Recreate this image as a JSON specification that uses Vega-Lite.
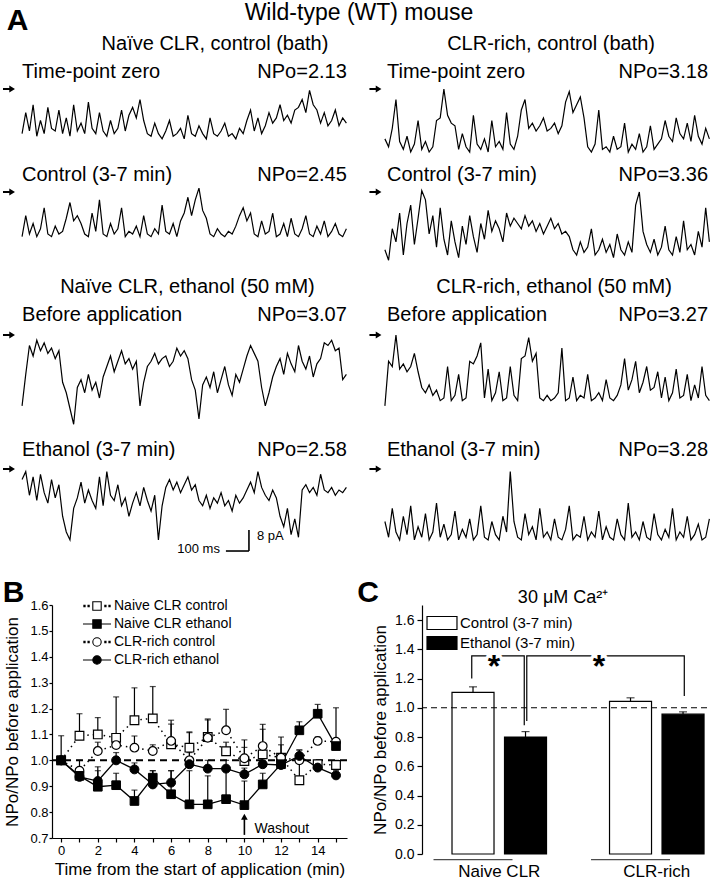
{
"$schema": "https://vega.github.io/schema/vega-lite/v6.json",
"padding": {"left": 2, "top": 0, "right": 0, "bottom": 0},
"autosize": {"type": "pad"},
"background": "white",
"config": {"font": "Liberation Sans", "view": {"stroke": null}, "axis": {"grid": false, "domainColor": "black", "tickColor": "black", "labelColor": "black", "titleColor": "black", "titleFontWeight": "normal", "domainWidth": 1.2, "tickWidth": 1.2, "labelOverlap": false}, "legend": {"labelColor": "black"}},
"datasets": {
"L1": [{"t":0,"v":-17},{"t":16,"v":-9},{"t":32,"v":-16},{"t":48,"v":-6},{"t":64,"v":-18},{"t":80,"v":-12},{"t":96,"v":-17},{"t":112,"v":-7},{"t":128,"v":-15},{"t":144,"v":-16},{"t":160,"v":-8},{"t":176,"v":-17},{"t":192,"v":-11},{"t":208,"v":-18},{"t":224,"v":-6},{"t":240,"v":-16},{"t":256,"v":-13},{"t":272,"v":-17},{"t":288,"v":-5},{"t":304,"v":-15},{"t":320,"v":-17},{"t":336,"v":-9},{"t":352,"v":-16},{"t":368,"v":-18},{"t":384,"v":-12},{"t":400,"v":-17},{"t":416,"v":-15},{"t":432,"v":-8},{"t":448,"v":-16},{"t":464,"v":-10},{"t":480,"v":-7},{"t":496,"v":-11},{"t":512,"v":-4},{"t":528,"v":-12},{"t":544,"v":-17},{"t":560,"v":-18},{"t":576,"v":-13},{"t":592,"v":-17},{"t":608,"v":-19},{"t":624,"v":-16},{"t":640,"v":-12},{"t":656,"v":-18},{"t":672,"v":-17},{"t":688,"v":-15},{"t":704,"v":-19},{"t":720,"v":-10},{"t":736,"v":-17},{"t":752,"v":-18},{"t":768,"v":-14},{"t":784,"v":-17},{"t":800,"v":-19},{"t":816,"v":-11},{"t":832,"v":-17},{"t":848,"v":-18},{"t":864,"v":-16},{"t":880,"v":-13},{"t":896,"v":-18},{"t":912,"v":-17},{"t":928,"v":-19},{"t":944,"v":-15},{"t":960,"v":-17},{"t":976,"v":-12},{"t":992,"v":-8},{"t":1008,"v":-16},{"t":1024,"v":-11},{"t":1040,"v":-17},{"t":1056,"v":-14},{"t":1072,"v":-9},{"t":1088,"v":-13},{"t":1104,"v":-11},{"t":1120,"v":-6},{"t":1136,"v":-12},{"t":1152,"v":-10},{"t":1168,"v":-13},{"t":1184,"v":-8},{"t":1200,"v":-7},{"t":1216,"v":-4},{"t":1232,"v":-9},{"t":1248,"v":-0.5},{"t":1264,"v":-6},{"t":1280,"v":-8},{"t":1296,"v":-13},{"t":1312,"v":-9},{"t":1328,"v":-14},{"t":1344,"v":-12},{"t":1360,"v":-8},{"t":1376,"v":-14},{"t":1392,"v":-11},{"t":1408,"v":-13}],
"R1": [{"t":0,"v":-19},{"t":16,"v":-22},{"t":32,"v":-15},{"t":48,"v":-4},{"t":64,"v":-20},{"t":80,"v":-23},{"t":96,"v":-18},{"t":112,"v":-24},{"t":128,"v":-21},{"t":144,"v":-12},{"t":160,"v":-23},{"t":176,"v":-20},{"t":192,"v":-24},{"t":208,"v":-22},{"t":224,"v":-12},{"t":240,"v":-11},{"t":256,"v":0},{"t":272,"v":-10},{"t":288,"v":-13},{"t":304,"v":-14},{"t":320,"v":-23},{"t":336,"v":-17},{"t":352,"v":-22},{"t":368,"v":-24},{"t":384,"v":-10},{"t":400,"v":-21},{"t":416,"v":-23},{"t":432,"v":-19},{"t":448,"v":-24},{"t":464,"v":-12},{"t":480,"v":-22},{"t":496,"v":-20},{"t":512,"v":-23},{"t":528,"v":-9},{"t":544,"v":-21},{"t":560,"v":-23},{"t":576,"v":-18},{"t":592,"v":-8},{"t":608,"v":-4},{"t":624,"v":-15},{"t":640,"v":-13},{"t":656,"v":-16},{"t":672,"v":-14},{"t":688,"v":-11},{"t":704,"v":-16},{"t":720,"v":-15},{"t":736,"v":-13},{"t":752,"v":-17},{"t":768,"v":-14},{"t":784,"v":-5},{"t":800,"v":-1},{"t":816,"v":-9},{"t":832,"v":-6},{"t":848,"v":-3},{"t":864,"v":-11},{"t":880,"v":-22},{"t":896,"v":-24},{"t":912,"v":-21},{"t":928,"v":-8},{"t":944,"v":-23},{"t":960,"v":-22},{"t":976,"v":-24},{"t":992,"v":-18},{"t":1008,"v":-23},{"t":1024,"v":-22},{"t":1040,"v":-13},{"t":1056,"v":-24},{"t":1072,"v":-21},{"t":1088,"v":-23},{"t":1104,"v":-17},{"t":1120,"v":-24},{"t":1136,"v":-22},{"t":1152,"v":-14},{"t":1168,"v":-23},{"t":1184,"v":-21},{"t":1200,"v":-19},{"t":1216,"v":-12},{"t":1232,"v":-18},{"t":1248,"v":-20},{"t":1264,"v":-11},{"t":1280,"v":-17},{"t":1296,"v":-19},{"t":1312,"v":-13},{"t":1328,"v":-20},{"t":1344,"v":-10},{"t":1360,"v":-18},{"t":1376,"v":-21},{"t":1392,"v":-15},{"t":1408,"v":-19}],
"L2": [{"t":0,"v":-17},{"t":16,"v":-9},{"t":32,"v":-16},{"t":48,"v":-12},{"t":64,"v":-17},{"t":80,"v":-14},{"t":96,"v":-6},{"t":112,"v":-16},{"t":128,"v":-17},{"t":144,"v":-13},{"t":160,"v":-16},{"t":176,"v":-15},{"t":192,"v":-10},{"t":208,"v":-4},{"t":224,"v":-11},{"t":240,"v":-9},{"t":256,"v":-12},{"t":272,"v":-16},{"t":288,"v":-17},{"t":304,"v":-8},{"t":320,"v":-15},{"t":336,"v":-3},{"t":352,"v":-16},{"t":368,"v":-17},{"t":384,"v":-12},{"t":400,"v":-16},{"t":416,"v":-14},{"t":432,"v":-6},{"t":448,"v":-17},{"t":464,"v":-15},{"t":480,"v":-16},{"t":496,"v":-13},{"t":512,"v":-17},{"t":528,"v":-9},{"t":544,"v":-16},{"t":560,"v":-17},{"t":576,"v":-14},{"t":592,"v":-16},{"t":608,"v":-5},{"t":624,"v":-15},{"t":640,"v":-16},{"t":656,"v":-12},{"t":672,"v":-17},{"t":688,"v":-11},{"t":704,"v":-8},{"t":720,"v":-2},{"t":736,"v":-9},{"t":752,"v":-3},{"t":768,"v":1.5},{"t":784,"v":-7},{"t":800,"v":-10},{"t":816,"v":-16},{"t":832,"v":-17},{"t":848,"v":-14},{"t":864,"v":-16},{"t":880,"v":-17},{"t":896,"v":-15},{"t":912,"v":-16},{"t":928,"v":-13},{"t":944,"v":-9},{"t":960,"v":-6},{"t":976,"v":-11},{"t":992,"v":-8},{"t":1008,"v":-16},{"t":1024,"v":-17},{"t":1040,"v":-11},{"t":1056,"v":-16},{"t":1072,"v":-15},{"t":1088,"v":-8},{"t":1104,"v":-17},{"t":1120,"v":-16},{"t":1136,"v":-12},{"t":1152,"v":-17},{"t":1168,"v":-10},{"t":1184,"v":-16},{"t":1200,"v":-17},{"t":1216,"v":-14},{"t":1232,"v":-9},{"t":1248,"v":-16},{"t":1264,"v":-17},{"t":1280,"v":-13},{"t":1296,"v":-16},{"t":1312,"v":-11},{"t":1328,"v":-17},{"t":1344,"v":-15},{"t":1360,"v":-12},{"t":1376,"v":-16},{"t":1392,"v":-17},{"t":1408,"v":-14}],
"R2": [{"t":0,"v":-22},{"t":16,"v":-26},{"t":32,"v":-14},{"t":48,"v":-19},{"t":64,"v":-8},{"t":80,"v":-24},{"t":96,"v":-12},{"t":112,"v":-5},{"t":128,"v":-20},{"t":144,"v":-10},{"t":160,"v":0.5},{"t":176,"v":-3},{"t":192,"v":-16},{"t":208,"v":-9},{"t":224,"v":-21},{"t":240,"v":-6},{"t":256,"v":-18},{"t":272,"v":-24},{"t":288,"v":-11},{"t":304,"v":-19},{"t":320,"v":-25},{"t":336,"v":-13},{"t":352,"v":-20},{"t":368,"v":-9},{"t":384,"v":-17},{"t":400,"v":-23},{"t":416,"v":-12},{"t":432,"v":-18},{"t":448,"v":-7},{"t":464,"v":-15},{"t":480,"v":-11},{"t":496,"v":-14},{"t":512,"v":-19},{"t":528,"v":-8},{"t":544,"v":-13},{"t":560,"v":-10},{"t":576,"v":-12},{"t":592,"v":-14},{"t":608,"v":-9},{"t":624,"v":-13},{"t":640,"v":-11},{"t":656,"v":-15},{"t":672,"v":-12},{"t":688,"v":-16},{"t":704,"v":-13},{"t":720,"v":-10},{"t":736,"v":-14},{"t":752,"v":-12},{"t":768,"v":-16},{"t":784,"v":-15},{"t":800,"v":-17},{"t":816,"v":-22},{"t":832,"v":-24},{"t":848,"v":-19},{"t":864,"v":-23},{"t":880,"v":-21},{"t":896,"v":-14},{"t":912,"v":-24},{"t":928,"v":-22},{"t":944,"v":-18},{"t":960,"v":-23},{"t":976,"v":-20},{"t":992,"v":-25},{"t":1008,"v":-16},{"t":1024,"v":-22},{"t":1040,"v":-24},{"t":1056,"v":-19},{"t":1072,"v":-23},{"t":1088,"v":-5},{"t":1104,"v":0},{"t":1120,"v":-15},{"t":1136,"v":-20},{"t":1152,"v":-23},{"t":1168,"v":-18},{"t":1184,"v":-24},{"t":1200,"v":-21},{"t":1216,"v":-13},{"t":1232,"v":-22},{"t":1248,"v":-24},{"t":1264,"v":-17},{"t":1280,"v":-23},{"t":1296,"v":-11},{"t":1312,"v":-22},{"t":1328,"v":-20},{"t":1344,"v":-24},{"t":1360,"v":-15},{"t":1376,"v":-21},{"t":1392,"v":-6},{"t":1408,"v":-19}],
"L3": [{"t":0,"v":-27},{"t":16,"v":-15},{"t":32,"v":-4},{"t":48,"v":-8},{"t":64,"v":-2},{"t":80,"v":-6},{"t":96,"v":-3},{"t":112,"v":-7},{"t":128,"v":-5},{"t":144,"v":-9},{"t":160,"v":-6},{"t":176,"v":-18},{"t":192,"v":-22},{"t":208,"v":-28},{"t":224,"v":-34},{"t":240,"v":-20},{"t":256,"v":-17},{"t":272,"v":-22},{"t":288,"v":-15},{"t":304,"v":-21},{"t":320,"v":-18},{"t":336,"v":-24},{"t":352,"v":-16},{"t":368,"v":-12},{"t":384,"v":-8},{"t":400,"v":-14},{"t":416,"v":-10},{"t":432,"v":-6},{"t":448,"v":-11},{"t":464,"v":-9},{"t":480,"v":-13},{"t":496,"v":-10},{"t":512,"v":-27},{"t":528,"v":-18},{"t":544,"v":-12},{"t":560,"v":-10},{"t":576,"v":-7},{"t":592,"v":-11},{"t":608,"v":-9},{"t":624,"v":-8},{"t":640,"v":-12},{"t":656,"v":-10},{"t":672,"v":-5},{"t":688,"v":-8},{"t":704,"v":-6},{"t":720,"v":-9},{"t":736,"v":-17},{"t":752,"v":-21},{"t":768,"v":-32},{"t":784,"v":-19},{"t":800,"v":-16},{"t":816,"v":-20},{"t":832,"v":-14},{"t":848,"v":-22},{"t":864,"v":-17},{"t":880,"v":-12},{"t":896,"v":-19},{"t":912,"v":-23},{"t":928,"v":-15},{"t":944,"v":-18},{"t":960,"v":-13},{"t":976,"v":-8},{"t":992,"v":-4},{"t":1008,"v":-7},{"t":1024,"v":-10},{"t":1040,"v":-20},{"t":1056,"v":-27},{"t":1072,"v":-22},{"t":1088,"v":-16},{"t":1104,"v":-12},{"t":1120,"v":-9},{"t":1136,"v":-15},{"t":1152,"v":-7},{"t":1168,"v":-11},{"t":1184,"v":-14},{"t":1200,"v":-4},{"t":1216,"v":-10},{"t":1232,"v":-13},{"t":1248,"v":-8},{"t":1264,"v":-16},{"t":1280,"v":-11},{"t":1296,"v":-9},{"t":1312,"v":-3},{"t":1328,"v":-4},{"t":1344,"v":-2},{"t":1360,"v":-6},{"t":1376,"v":-5},{"t":1392,"v":-17},{"t":1408,"v":-15}],
"R3": [{"t":0,"v":-27},{"t":16,"v":-10},{"t":32,"v":-12},{"t":48,"v":0},{"t":64,"v":-13},{"t":80,"v":-11},{"t":96,"v":-14},{"t":112,"v":-12},{"t":128,"v":-7},{"t":144,"v":-14},{"t":160,"v":-20},{"t":176,"v":-22},{"t":192,"v":-19},{"t":208,"v":-23},{"t":224,"v":-21},{"t":240,"v":-25},{"t":256,"v":-24},{"t":272,"v":-12},{"t":288,"v":-25},{"t":304,"v":-23},{"t":320,"v":-15},{"t":336,"v":-25},{"t":352,"v":-24},{"t":368,"v":-10},{"t":384,"v":-11},{"t":400,"v":-8},{"t":416,"v":-3},{"t":432,"v":-24},{"t":448,"v":-13},{"t":464,"v":-25},{"t":480,"v":-22},{"t":496,"v":-14},{"t":512,"v":-25},{"t":528,"v":-24},{"t":544,"v":-12},{"t":560,"v":-23},{"t":576,"v":-25},{"t":592,"v":-9},{"t":608,"v":-8},{"t":624,"v":-1},{"t":640,"v":-10},{"t":656,"v":-7},{"t":672,"v":-24},{"t":688,"v":-25},{"t":704,"v":-23},{"t":720,"v":-25},{"t":736,"v":-24},{"t":752,"v":-22},{"t":768,"v":-5},{"t":784,"v":-25},{"t":800,"v":-24},{"t":816,"v":-16},{"t":832,"v":-25},{"t":848,"v":-23},{"t":864,"v":-24},{"t":880,"v":-15},{"t":896,"v":-25},{"t":912,"v":-24},{"t":928,"v":-22},{"t":944,"v":-25},{"t":960,"v":-17},{"t":976,"v":-24},{"t":992,"v":-25},{"t":1008,"v":-23},{"t":1024,"v":-19},{"t":1040,"v":-9},{"t":1056,"v":-21},{"t":1072,"v":-17},{"t":1088,"v":-10},{"t":1104,"v":-22},{"t":1120,"v":-18},{"t":1136,"v":-12},{"t":1152,"v":-21},{"t":1168,"v":-20},{"t":1184,"v":-14},{"t":1200,"v":-24},{"t":1216,"v":-16},{"t":1232,"v":-25},{"t":1248,"v":-22},{"t":1264,"v":-13},{"t":1280,"v":-24},{"t":1296,"v":-23},{"t":1312,"v":-15},{"t":1328,"v":-25},{"t":1344,"v":-19},{"t":1360,"v":-24},{"t":1376,"v":-12},{"t":1392,"v":-23},{"t":1408,"v":-25}],
"L4": [{"t":0,"v":-4},{"t":16,"v":-1},{"t":32,"v":-10},{"t":48,"v":-3},{"t":64,"v":-12},{"t":80,"v":-2},{"t":96,"v":-9},{"t":112,"v":-13},{"t":128,"v":-4},{"t":144,"v":-11},{"t":160,"v":-6},{"t":176,"v":-18},{"t":192,"v":-24},{"t":208,"v":-27},{"t":224,"v":-15},{"t":240,"v":-11},{"t":256,"v":-5},{"t":272,"v":-13},{"t":288,"v":-8},{"t":304,"v":-12},{"t":320,"v":-15},{"t":336,"v":-3},{"t":352,"v":-14},{"t":368,"v":-1},{"t":384,"v":-10},{"t":400,"v":-12},{"t":416,"v":-6},{"t":432,"v":-14},{"t":448,"v":-11},{"t":464,"v":-18},{"t":480,"v":-13},{"t":496,"v":-9},{"t":512,"v":-14},{"t":528,"v":-7},{"t":544,"v":-12},{"t":560,"v":-16},{"t":576,"v":-10},{"t":592,"v":-27},{"t":608,"v":-14},{"t":624,"v":-7},{"t":640,"v":-4},{"t":656,"v":-8},{"t":672,"v":-5},{"t":688,"v":-9},{"t":704,"v":-6},{"t":720,"v":-3},{"t":736,"v":-8},{"t":752,"v":-6},{"t":768,"v":-12},{"t":784,"v":-14},{"t":800,"v":-10},{"t":816,"v":-15},{"t":832,"v":-11},{"t":848,"v":-13},{"t":864,"v":-9},{"t":880,"v":-14},{"t":896,"v":-12},{"t":912,"v":-16},{"t":928,"v":-10},{"t":944,"v":-13},{"t":960,"v":-11},{"t":976,"v":-8},{"t":992,"v":-5},{"t":1008,"v":-9},{"t":1024,"v":-1},{"t":1040,"v":-7},{"t":1056,"v":-10},{"t":1072,"v":-12},{"t":1088,"v":-8},{"t":1104,"v":-11},{"t":1120,"v":-18},{"t":1136,"v":-22},{"t":1152,"v":-15},{"t":1168,"v":-25},{"t":1184,"v":-19},{"t":1200,"v":-26},{"t":1216,"v":-8},{"t":1232,"v":-6},{"t":1248,"v":-9},{"t":1264,"v":-7},{"t":1280,"v":-10},{"t":1296,"v":-2},{"t":1312,"v":-8},{"t":1328,"v":-9},{"t":1344,"v":-7},{"t":1360,"v":-10},{"t":1376,"v":-8},{"t":1392,"v":-9},{"t":1408,"v":-7}],
"R4": [{"t":0,"v":-20},{"t":16,"v":-26},{"t":32,"v":-15},{"t":48,"v":-24},{"t":64,"v":-27},{"t":80,"v":-18},{"t":96,"v":-25},{"t":112,"v":-14},{"t":128,"v":-27},{"t":144,"v":-22},{"t":160,"v":-26},{"t":176,"v":-17},{"t":192,"v":-27},{"t":208,"v":-24},{"t":224,"v":-13},{"t":240,"v":-26},{"t":256,"v":-21},{"t":272,"v":-27},{"t":288,"v":-25},{"t":304,"v":-16},{"t":320,"v":-27},{"t":336,"v":-23},{"t":352,"v":-26},{"t":368,"v":-19},{"t":384,"v":-27},{"t":400,"v":-25},{"t":416,"v":-14},{"t":432,"v":-26},{"t":448,"v":-27},{"t":464,"v":-20},{"t":480,"v":-25},{"t":496,"v":-27},{"t":512,"v":-18},{"t":528,"v":-24},{"t":544,"v":-1},{"t":560,"v":-20},{"t":576,"v":-26},{"t":592,"v":-27},{"t":608,"v":-17},{"t":624,"v":-25},{"t":640,"v":-22},{"t":656,"v":-27},{"t":672,"v":-15},{"t":688,"v":-26},{"t":704,"v":-24},{"t":720,"v":-27},{"t":736,"v":-19},{"t":752,"v":-26},{"t":768,"v":-27},{"t":784,"v":-23},{"t":800,"v":-14},{"t":816,"v":-27},{"t":832,"v":-25},{"t":848,"v":-26},{"t":864,"v":-18},{"t":880,"v":-27},{"t":896,"v":-24},{"t":912,"v":-26},{"t":928,"v":-16},{"t":944,"v":-27},{"t":960,"v":-22},{"t":976,"v":-26},{"t":992,"v":-27},{"t":1008,"v":-19},{"t":1024,"v":-25},{"t":1040,"v":-27},{"t":1056,"v":-13},{"t":1072,"v":-26},{"t":1088,"v":-24},{"t":1104,"v":-27},{"t":1120,"v":-20},{"t":1136,"v":-26},{"t":1152,"v":-27},{"t":1168,"v":-17},{"t":1184,"v":-25},{"t":1200,"v":-27},{"t":1216,"v":-23},{"t":1232,"v":-26},{"t":1248,"v":-15},{"t":1264,"v":-27},{"t":1280,"v":-24},{"t":1296,"v":-26},{"t":1312,"v":-18},{"t":1328,"v":-27},{"t":1344,"v":-25},{"t":1360,"v":-21},{"t":1376,"v":-27},{"t":1392,"v":-26},{"t":1408,"v":-19}],
"bdata": [
{"s":"Naive CLR control","t":0,"v":1.0,"e":null},{"s":"Naive CLR control","t":1,"v":1.095,"e":1.18},{"s":"Naive CLR control","t":2,"v":1.10,"e":1.165},{"s":"Naive CLR control","t":3,"v":1.087,"e":1.245},{"s":"Naive CLR control","t":4,"v":1.155,"e":1.28},{"s":"Naive CLR control","t":5,"v":1.162,"e":1.285},{"s":"Naive CLR control","t":6,"v":1.062,"e":1.155},{"s":"Naive CLR control","t":7,"v":1.049,"e":1.107},{"s":"Naive CLR control","t":8,"v":1.09,"e":1.16},{"s":"Naive CLR control","t":9,"v":1.035,"e":1.07},{"s":"Naive CLR control","t":10,"v":0.997,"e":1.05},{"s":"Naive CLR control","t":11,"v":1.023,"e":1.12},{"s":"Naive CLR control","t":12,"v":1.01,"e":1.09},{"s":"Naive CLR control","t":13,"v":0.923,"e":1.0},{"s":"Naive CLR control","t":14,"v":0.985,"e":1.0},{"s":"Naive CLR control","t":15,"v":0.982,"e":1.0},
{"s":"Naive CLR ethanol","t":0,"v":1.0,"e":null},{"s":"Naive CLR ethanol","t":1,"v":0.94,"e":0.96},{"s":"Naive CLR ethanol","t":2,"v":0.898,"e":0.975},{"s":"Naive CLR ethanol","t":3,"v":0.904,"e":0.95},{"s":"Naive CLR ethanol","t":4,"v":0.843,"e":0.885},{"s":"Naive CLR ethanol","t":5,"v":0.933,"e":0.96},{"s":"Naive CLR ethanol","t":6,"v":0.869,"e":0.96},{"s":"Naive CLR ethanol","t":7,"v":0.83,"e":0.96},{"s":"Naive CLR ethanol","t":8,"v":0.83,"e":0.94},{"s":"Naive CLR ethanol","t":9,"v":0.85,"e":0.97},{"s":"Naive CLR ethanol","t":10,"v":0.827,"e":0.92},{"s":"Naive CLR ethanol","t":11,"v":0.907,"e":0.95},{"s":"Naive CLR ethanol","t":12,"v":0.985,"e":1.0},{"s":"Naive CLR ethanol","t":13,"v":1.116,"e":1.149},{"s":"Naive CLR ethanol","t":14,"v":1.18,"e":1.216},{"s":"Naive CLR ethanol","t":15,"v":1.055,"e":1.08},
{"s":"CLR-rich control","t":0,"v":1.0,"e":1.095},{"s":"CLR-rich control","t":1,"v":0.96,"e":1.0},{"s":"CLR-rich control","t":2,"v":1.036,"e":1.07},{"s":"CLR-rich control","t":3,"v":1.059,"e":1.1},{"s":"CLR-rich control","t":4,"v":1.049,"e":1.094},{"s":"CLR-rich control","t":5,"v":1.036,"e":1.06},{"s":"CLR-rich control","t":6,"v":1.075,"e":1.14},{"s":"CLR-rich control","t":7,"v":1.0,"e":1.03},{"s":"CLR-rich control","t":8,"v":1.087,"e":1.156},{"s":"CLR-rich control","t":9,"v":1.116,"e":1.197},{"s":"CLR-rich control","t":10,"v":1.008,"e":1.079},{"s":"CLR-rich control","t":11,"v":1.055,"e":1.139},{"s":"CLR-rich control","t":12,"v":1.01,"e":1.06},{"s":"CLR-rich control","t":13,"v":1.0,"e":1.04},{"s":"CLR-rich control","t":14,"v":1.075,"e":1.09},{"s":"CLR-rich control","t":15,"v":1.072,"e":1.203},
{"s":"CLR-rich ethanol","t":0,"v":1.0,"e":null},{"s":"CLR-rich ethanol","t":1,"v":0.936,"e":0.95},{"s":"CLR-rich ethanol","t":2,"v":0.92,"e":0.96},{"s":"CLR-rich ethanol","t":3,"v":1.0,"e":1.03},{"s":"CLR-rich ethanol","t":4,"v":0.965,"e":0.99},{"s":"CLR-rich ethanol","t":5,"v":0.907,"e":0.96},{"s":"CLR-rich ethanol","t":6,"v":0.914,"e":0.96},{"s":"CLR-rich ethanol","t":7,"v":0.985,"e":1.11},{"s":"CLR-rich ethanol","t":8,"v":0.968,"e":1.0},{"s":"CLR-rich ethanol","t":9,"v":0.968,"e":1.0},{"s":"CLR-rich ethanol","t":10,"v":0.946,"e":0.97},{"s":"CLR-rich ethanol","t":11,"v":0.985,"e":1.0},{"s":"CLR-rich ethanol","t":12,"v":0.982,"e":1.0},{"s":"CLR-rich ethanol","t":13,"v":1.017,"e":1.04},{"s":"CLR-rich ethanol","t":14,"v":0.972,"e":0.99},{"s":"CLR-rich ethanol","t":15,"v":0.942,"e":0.96}
],
"cdata": [
{"cat":"NC","treat":"Control (3-7 min)","v":1.105,"e":1.143},
{"cat":"NE","treat":"Ethanol (3-7 min)","v":0.80,"e":0.837},
{"cat":"RC","treat":"Control (3-7 min)","v":1.043,"e":1.068},
{"cat":"RE","treat":"Ethanol (3-7 min)","v":0.956,"e":0.972}
],
"brk": [
{"b":1,"o":1,"c":"NC","y":1.20},{"b":1,"o":2,"c":"NC","y":1.355},{"b":1,"o":3,"c":"NE","y":1.355},{"b":1,"o":4,"c":"NE","y":0.88},
{"b":2,"o":1,"c":"NE","y":0.91},{"b":2,"o":2,"c":"NE","y":1.355},{"b":2,"o":3,"c":"RE","y":1.355},{"b":2,"o":4,"c":"RE","y":1.08}
]
},
"spacing": 0,
"resolve": {"scale": {"fill": "independent", "shape": "independent", "stroke": "independent"}},
"vconcat": [
{"bounds": "flush", "spacing": 15, "hconcat": [
 {"width": 296, "height": 163, "layer": [
  {"data": {"name": "L1"}, "mark": {"type": "line", "color": "black", "strokeWidth": 1.2}, "encoding": {"x": {"field": "t", "type": "quantitative", "scale": {"domain": [130, 1415], "nice": false, "zero": false}, "axis": null}, "y": {"field": "v", "type": "quantitative", "scale": {"domain": [-28.19, 33.9], "nice": false, "zero": false}, "axis": null}}},
  {"data": {"values": [{}]}, "mark": {"type": "point", "shape": "M-1,-0.18L0.05,-0.18L0.05,-0.6L1,0L0.05,0.6L0.05,0.18L-1,0.18Z", "size": 144, "filled": true, "color": "black", "opacity": 1}, "encoding": {"x": {"datum": -56.7}, "y": {"datum": 0}}},
  {"data": {"values": [{}]}, "mark": {"type": "text", "text": "Time-point zero", "align": "left", "baseline": "middle", "fontSize": 20, "color": "black"}, "encoding": {"x": {"datum": 0}, "y": {"datum": 6.48}}},
  {"data": {"values": [{}]}, "mark": {"type": "text", "text": "NPo=2.13", "align": "right", "baseline": "middle", "fontSize": 20, "color": "black"}, "encoding": {"x": {"datum": 1410}, "y": {"datum": 6.48}}},
  {"data": {"values": [{}]}, "mark": {"type": "text", "text": "Naïve CLR, control (bath)", "align": "center", "baseline": "middle", "fontSize": 20, "color": "black"}, "encoding": {"x": {"datum": 837.6}, "y": {"datum": 17.14}}},
  {"data": {"values": [{}]}, "mark": {"type": "text", "text": "A", "align": "center", "baseline": "middle", "fontSize": 30, "fontWeight": "bold", "color": "black"}, "encoding": {"x": {"datum": -19.8}, "y": {"datum": 25.9}}},
  {"data": {"values": [{}]}, "mark": {"type": "text", "text": "Wild-type (WT) mouse", "align": "center", "baseline": "middle", "fontSize": 23, "color": "black"}, "encoding": {"x": {"datum": 1462.8}, "y": {"datum": 28.9}}}
 ]},
 {"width": 348, "height": 163, "layer": [
  {"data": {"name": "R1"}, "mark": {"type": "line", "color": "black", "strokeWidth": 1.2}, "encoding": {"x": {"field": "t", "type": "quantitative", "scale": {"domain": [-95, 1415], "nice": false, "zero": false}, "axis": null}, "y": {"field": "v", "type": "quantitative", "scale": {"domain": [-28.19, 33.9], "nice": false, "zero": false}, "axis": null}}},
  {"data": {"values": [{}]}, "mark": {"type": "point", "shape": "M-1,-0.18L0.05,-0.18L0.05,-0.6L1,0L0.05,0.6L0.05,0.18L-1,0.18Z", "size": 144, "filled": true, "color": "black", "opacity": 1}, "encoding": {"x": {"datum": -41}, "y": {"datum": 0}}},
  {"data": {"values": [{}]}, "mark": {"type": "text", "text": "Time-point zero", "align": "left", "baseline": "middle", "fontSize": 20, "color": "black"}, "encoding": {"x": {"datum": 9}, "y": {"datum": 6.48}}},
  {"data": {"values": [{}]}, "mark": {"type": "text", "text": "NPo=3.18", "align": "right", "baseline": "middle", "fontSize": 20, "color": "black"}, "encoding": {"x": {"datum": 1402}, "y": {"datum": 6.48}}},
  {"data": {"values": [{}]}, "mark": {"type": "text", "text": "CLR-rich, control (bath)", "align": "center", "baseline": "middle", "fontSize": 20, "color": "black"}, "encoding": {"x": {"datum": 721}, "y": {"datum": 17.14}}}
 ]}
]},
{"bounds": "flush", "spacing": 15, "hconcat": [
 {"width": 296, "height": 105, "layer": [
  {"data": {"name": "L2"}, "mark": {"type": "line", "color": "black", "strokeWidth": 1.2}, "encoding": {"x": {"field": "t", "type": "quantitative", "scale": {"domain": [130, 1415], "nice": false, "zero": false}, "axis": null}, "y": {"field": "v", "type": "quantitative", "scale": {"domain": [-28.95, 11.05], "nice": false, "zero": false}, "axis": null}}},
  {"data": {"values": [{}]}, "mark": {"type": "point", "shape": "M-1,-0.18L0.05,-0.18L0.05,-0.6L1,0L0.05,0.6L0.05,0.18L-1,0.18Z", "size": 144, "filled": true, "color": "black", "opacity": 1}, "encoding": {"x": {"datum": -56.7}, "y": {"datum": 0}}},
  {"data": {"values": [{}]}, "mark": {"type": "text", "text": "Control (3-7 min)", "align": "left", "baseline": "middle", "fontSize": 20, "color": "black"}, "encoding": {"x": {"datum": 0}, "y": {"datum": 6.48}}},
  {"data": {"values": [{}]}, "mark": {"type": "text", "text": "NPo=2.45", "align": "right", "baseline": "middle", "fontSize": 20, "color": "black"}, "encoding": {"x": {"datum": 1410}, "y": {"datum": 6.48}}}
 ]},
 {"width": 348, "height": 105, "layer": [
  {"data": {"name": "R2"}, "mark": {"type": "line", "color": "black", "strokeWidth": 1.2}, "encoding": {"x": {"field": "t", "type": "quantitative", "scale": {"domain": [-95, 1415], "nice": false, "zero": false}, "axis": null}, "y": {"field": "v", "type": "quantitative", "scale": {"domain": [-28.95, 11.05], "nice": false, "zero": false}, "axis": null}}},
  {"data": {"values": [{}]}, "mark": {"type": "point", "shape": "M-1,-0.18L0.05,-0.18L0.05,-0.6L1,0L0.05,0.6L0.05,0.18L-1,0.18Z", "size": 144, "filled": true, "color": "black", "opacity": 1}, "encoding": {"x": {"datum": -41}, "y": {"datum": 0}}},
  {"data": {"values": [{}]}, "mark": {"type": "text", "text": "Control (3-7 min)", "align": "left", "baseline": "middle", "fontSize": 20, "color": "black"}, "encoding": {"x": {"datum": 9}, "y": {"datum": 6.48}}},
  {"data": {"values": [{}]}, "mark": {"type": "text", "text": "NPo=3.36", "align": "right", "baseline": "middle", "fontSize": 20, "color": "black"}, "encoding": {"x": {"datum": 1402}, "y": {"datum": 6.48}}}
 ]}
]},
{"bounds": "flush", "spacing": 15, "hconcat": [
 {"width": 296, "height": 164, "layer": [
  {"data": {"name": "L3"}, "mark": {"type": "line", "color": "black", "strokeWidth": 1.2}, "encoding": {"x": {"field": "t", "type": "quantitative", "scale": {"domain": [130, 1415], "nice": false, "zero": false}, "axis": null}, "y": {"field": "v", "type": "quantitative", "scale": {"domain": [-36.95, 25.52], "nice": false, "zero": false}, "axis": null}}},
  {"data": {"values": [{}]}, "mark": {"type": "point", "shape": "M-1,-0.18L0.05,-0.18L0.05,-0.6L1,0L0.05,0.6L0.05,0.18L-1,0.18Z", "size": 144, "filled": true, "color": "black", "opacity": 1}, "encoding": {"x": {"datum": -56.7}, "y": {"datum": 0}}},
  {"data": {"values": [{}]}, "mark": {"type": "text", "text": "Before application", "align": "left", "baseline": "middle", "fontSize": 20, "color": "black"}, "encoding": {"x": {"datum": 0}, "y": {"datum": 7.62}}},
  {"data": {"values": [{}]}, "mark": {"type": "text", "text": "NPo=3.07", "align": "right", "baseline": "middle", "fontSize": 20, "color": "black"}, "encoding": {"x": {"datum": 1410}, "y": {"datum": 7.62}}},
  {"data": {"values": [{}]}, "mark": {"type": "text", "text": "Naïve CLR, ethanol (50 mM)", "align": "center", "baseline": "middle", "fontSize": 20, "color": "black"}, "encoding": {"x": {"datum": 718}, "y": {"datum": 18.29}}}
 ]},
 {"width": 348, "height": 164, "layer": [
  {"data": {"name": "R3"}, "mark": {"type": "line", "color": "black", "strokeWidth": 1.2}, "encoding": {"x": {"field": "t", "type": "quantitative", "scale": {"domain": [-95, 1415], "nice": false, "zero": false}, "axis": null}, "y": {"field": "v", "type": "quantitative", "scale": {"domain": [-36.95, 25.52], "nice": false, "zero": false}, "axis": null}}},
  {"data": {"values": [{}]}, "mark": {"type": "point", "shape": "M-1,-0.18L0.05,-0.18L0.05,-0.6L1,0L0.05,0.6L0.05,0.18L-1,0.18Z", "size": 144, "filled": true, "color": "black", "opacity": 1}, "encoding": {"x": {"datum": -41}, "y": {"datum": 0}}},
  {"data": {"values": [{}]}, "mark": {"type": "text", "text": "Before application", "align": "left", "baseline": "middle", "fontSize": 20, "color": "black"}, "encoding": {"x": {"datum": 9}, "y": {"datum": 7.62}}},
  {"data": {"values": [{}]}, "mark": {"type": "text", "text": "NPo=3.27", "align": "right", "baseline": "middle", "fontSize": 20, "color": "black"}, "encoding": {"x": {"datum": 1402}, "y": {"datum": 7.62}}},
  {"data": {"values": [{}]}, "mark": {"type": "text", "text": "CLR-rich, ethanol (50 mM)", "align": "center", "baseline": "middle", "fontSize": 20, "color": "black"}, "encoding": {"x": {"datum": 734}, "y": {"datum": 18.29}}}
 ]}
]},
{"bounds": "flush", "spacing": 15, "hconcat": [
 {"width": 296, "height": 145, "layer": [
  {"data": {"name": "L4"}, "mark": {"type": "line", "color": "black", "strokeWidth": 1.2}, "encoding": {"x": {"field": "t", "type": "quantitative", "scale": {"domain": [130, 1415], "nice": false, "zero": false}, "axis": null}, "y": {"field": "v", "type": "quantitative", "scale": {"domain": [-41.14, 14.1], "nice": false, "zero": false}, "axis": null}}},
  {"data": {"values": [{}]}, "mark": {"type": "point", "shape": "M-1,-0.18L0.05,-0.18L0.05,-0.6L1,0L0.05,0.6L0.05,0.18L-1,0.18Z", "size": 144, "filled": true, "color": "black", "opacity": 1}, "encoding": {"x": {"datum": -56.7}, "y": {"datum": 0}}},
  {"data": {"values": [{}]}, "mark": {"type": "text", "text": "Ethanol (3-7 min)", "align": "left", "baseline": "middle", "fontSize": 20, "color": "black"}, "encoding": {"x": {"datum": 0}, "y": {"datum": 7.24}}},
  {"data": {"values": [{}]}, "mark": {"type": "text", "text": "NPo=2.58", "align": "right", "baseline": "middle", "fontSize": 20, "color": "black"}, "encoding": {"x": {"datum": 1410}, "y": {"datum": 7.24}}},
  {"data": {"values": [{}]}, "mark": {"type": "rule", "color": "black", "strokeWidth": 1.6}, "encoding": {"x": {"datum": 885}, "x2": {"datum": 985}, "y": {"datum": -31.24}}},
  {"data": {"values": [{}]}, "mark": {"type": "rule", "color": "black", "strokeWidth": 1.6}, "encoding": {"x": {"datum": 985}, "y": {"datum": -31.24}, "y2": {"datum": -23.24}}},
  {"data": {"values": [{}]}, "mark": {"type": "text", "text": "8 pA", "align": "left", "baseline": "middle", "fontSize": 13, "color": "black"}, "encoding": {"x": {"datum": 1020}, "y": {"datum": -25.5}}},
  {"data": {"values": [{}]}, "mark": {"type": "text", "text": "100 ms", "align": "right", "baseline": "middle", "fontSize": 13, "color": "black"}, "encoding": {"x": {"datum": 859}, "y": {"datum": -30.5}}}
 ]},
 {"width": 348, "height": 145, "layer": [
  {"data": {"name": "R4"}, "mark": {"type": "line", "color": "black", "strokeWidth": 1.2}, "encoding": {"x": {"field": "t", "type": "quantitative", "scale": {"domain": [-95, 1415], "nice": false, "zero": false}, "axis": null}, "y": {"field": "v", "type": "quantitative", "scale": {"domain": [-41.14, 14.1], "nice": false, "zero": false}, "axis": null}}},
  {"data": {"values": [{}]}, "mark": {"type": "point", "shape": "M-1,-0.18L0.05,-0.18L0.05,-0.6L1,0L0.05,0.6L0.05,0.18L-1,0.18Z", "size": 144, "filled": true, "color": "black", "opacity": 1}, "encoding": {"x": {"datum": -41}, "y": {"datum": 0}}},
  {"data": {"values": [{}]}, "mark": {"type": "text", "text": "Ethanol (3-7 min)", "align": "left", "baseline": "middle", "fontSize": 20, "color": "black"}, "encoding": {"x": {"datum": 9}, "y": {"datum": 7.24}}},
  {"data": {"values": [{}]}, "mark": {"type": "text", "text": "NPo=3.28", "align": "right", "baseline": "middle", "fontSize": 20, "color": "black"}, "encoding": {"x": {"datum": 1402}, "y": {"datum": 7.24}}}
 ]}
]},
{"bounds": "flush", "spacing": 75, "resolve": {"scale": {"fill": "independent", "shape": "independent", "stroke": "independent"}}, "hconcat": [
 {"width": 295, "height": 233, "layer": [
  {"data": {"name": "bdata"}, "transform": [{"filter": "datum.s == 'Naive CLR control' || datum.s == 'CLR-rich control'"}], "mark": {"type": "line", "color": "black", "strokeWidth": 1.5, "strokeDash": [1.5, 4]},
   "encoding": {"x": {"field": "t", "type": "quantitative", "scale": {"domain": [-0.5, 15.6], "nice": false, "zero": false}, "axis": {"values": [0,1,2,3,4,5,6,7,8,9,10,11,12,13,14,15], "tickCount": 40, "format": "d", "labelExpr": "datum.value % 2 === 0 ? datum.label : ''", "title": "Time from the start of application (min)", "titleFontSize": 17, "labelFontSize": 13, "tickSize": 4, "labelPadding": 2, "titlePadding": 4, "labelFlush": false, "labelOverlap": false}},
    "y": {"field": "v", "type": "quantitative", "scale": {"domain": [0.7, 1.6], "nice": false, "zero": false}, "axis": {"values": [0.7,0.8,0.9,1,1.1,1.2,1.3,1.4,1.5,1.6], "tickCount": 30, "format": ".1f", "title": "NPo/NPo before application", "titleFontSize": 17, "labelFontSize": 13, "tickSize": 3, "labelPadding": 1, "titlePadding": 8, "labelOverlap": false, "labelFlush": false}},
    "detail": {"field": "s"}}},
  {"data": {"values": [{}]}, "mark": {"type": "rule", "color": "black", "strokeDash": [7, 5], "strokeWidth": 2}, "encoding": {"y": {"datum": 1}}},
  {"data": {"name": "bdata"}, "transform": [{"filter": "datum.s == 'Naive CLR ethanol' || datum.s == 'CLR-rich ethanol'"}], "mark": {"type": "line", "color": "black", "strokeWidth": 1.3}, "encoding": {"x": {"field": "t", "type": "quantitative"}, "y": {"field": "v", "type": "quantitative"}, "detail": {"field": "s"}}},
  {"data": {"name": "bdata"}, "transform": [{"filter": "datum.e != null"}], "mark": {"type": "rule", "color": "black", "strokeWidth": 1.2}, "encoding": {"x": {"field": "t", "type": "quantitative"}, "y": {"field": "v", "type": "quantitative"}, "y2": {"field": "e"}}},
  {"data": {"name": "bdata"}, "transform": [{"filter": "datum.e != null"}], "mark": {"type": "tick", "orient": "horizontal", "color": "black", "size": 6, "thickness": 1.2}, "encoding": {"x": {"field": "t", "type": "quantitative"}, "y": {"field": "e", "type": "quantitative"}}},
  {"data": {"name": "bdata"}, "transform": [{"filter": "datum.s == 'Naive CLR control'"}], "mark": {"type": "point", "shape": "square", "size": 75, "filled": true, "fill": "white", "stroke": "black", "strokeWidth": 1.2, "opacity": 1}, "encoding": {"x": {"field": "t", "type": "quantitative"}, "y": {"field": "v", "type": "quantitative"}}},
  {"data": {"name": "bdata"}, "transform": [{"filter": "datum.s == 'CLR-rich control'"}], "mark": {"type": "point", "shape": "circle", "size": 75, "filled": true, "fill": "white", "stroke": "black", "strokeWidth": 1.2, "opacity": 1}, "encoding": {"x": {"field": "t", "type": "quantitative"}, "y": {"field": "v", "type": "quantitative"}}},
  {"data": {"name": "bdata"}, "transform": [{"filter": "datum.s == 'Naive CLR ethanol'"}], "mark": {"type": "point", "shape": "square", "size": 75, "filled": true, "fill": "black", "stroke": "black", "strokeWidth": 1, "opacity": 1}, "encoding": {"x": {"field": "t", "type": "quantitative"}, "y": {"field": "v", "type": "quantitative"}}},
  {"data": {"name": "bdata"}, "transform": [{"filter": "datum.s == 'CLR-rich ethanol'"}], "mark": {"type": "point", "shape": "circle", "size": 80, "filled": true, "fill": "black", "stroke": "black", "strokeWidth": 1, "opacity": 1}, "encoding": {"x": {"field": "t", "type": "quantitative"}, "y": {"field": "v", "type": "quantitative"}}},
  {"data": {"name": "bdata"}, "transform": [{"filter": "datum.t < 0"}], "mark": {"type": "point", "size": 225, "strokeWidth": 1.1, "opacity": 1},
   "encoding": {"x": {"field": "t", "type": "quantitative"}, "y": {"field": "v", "type": "quantitative"},
    "shape": {"field": "s", "type": "nominal", "scale": {"domain": ["Naive CLR control", "Naive CLR ethanol", "CLR-rich control", "CLR-rich ethanol"], "range": [
      "M-0.56,-0.56H0.56V0.56H-0.56Z M-1.75,-0.08h0.16v0.16h-0.16Z M-1.2,-0.08h0.16v0.16h-0.16Z M1.04,-0.08h0.16v0.16h-0.16Z M1.59,-0.08h0.16v0.16h-0.16Z",
      "M-1.87,0H-0.56 M0.56,0H1.87 M-0.56,-0.56H0.56V0.56H-0.56Z",
      "M-0.56,0A0.56,0.56,0,1,1,0.56,0A0.56,0.56,0,1,1,-0.56,0Z M-1.75,-0.08h0.16v0.16h-0.16Z M-1.2,-0.08h0.16v0.16h-0.16Z M1.04,-0.08h0.16v0.16h-0.16Z M1.59,-0.08h0.16v0.16h-0.16Z",
      "M-1.87,0H-0.56 M0.56,0H1.87 M-0.56,0A0.56,0.56,0,1,1,0.56,0A0.56,0.56,0,1,1,-0.56,0Z"]},
     "legend": {"orient": "none", "legendX": 36.5, "legendY": -7.5, "title": null, "padding": 0, "symbolSize": 225, "labelFontSize": 14, "labelOffset": 8.5, "rowPadding": 2, "symbolStrokeWidth": 1.1, "labelLimit": 300}},
    "fill": {"field": "s", "type": "nominal", "scale": {"domain": ["Naive CLR control", "Naive CLR ethanol", "CLR-rich control", "CLR-rich ethanol"], "range": ["white", "black", "white", "black"]},
     "legend": {"orient": "none", "legendX": 36.5, "legendY": -7.5, "title": null, "padding": 0, "symbolSize": 225, "labelFontSize": 14, "labelOffset": 8.5, "rowPadding": 2, "symbolStrokeWidth": 1.1, "labelLimit": 300}},
    "stroke": {"field": "s", "type": "nominal", "scale": {"domain": ["Naive CLR control", "Naive CLR ethanol", "CLR-rich control", "CLR-rich ethanol"], "range": ["black", "black", "black", "black"]},
     "legend": {"orient": "none", "legendX": 36.5, "legendY": -7.5, "title": null, "padding": 0, "symbolSize": 225, "labelFontSize": 14, "labelOffset": 8.5, "rowPadding": 2, "symbolStrokeWidth": 1.1, "labelLimit": 300}}}},
  {"data": {"values": [{}]}, "mark": {"type": "rule", "color": "black", "strokeWidth": 1.6}, "encoding": {"x": {"datum": 10}, "y": {"datum": 0.712}, "y2": {"datum": 0.778}}},
  {"data": {"values": [{}]}, "mark": {"type": "point", "shape": "triangle-up", "size": 45, "filled": true, "color": "black", "opacity": 1}, "encoding": {"x": {"datum": 10}, "y": {"datum": 0.782}}},
  {"data": {"values": [{}]}, "mark": {"type": "text", "text": "Washout", "align": "left", "baseline": "middle", "fontSize": 14, "color": "black"}, "encoding": {"x": {"datum": 10.55}, "y": {"datum": 0.735}}},
  {"data": {"values": [{}]}, "mark": {"type": "text", "text": "B", "align": "center", "baseline": "middle", "fontSize": 30, "fontWeight": "bold", "color": "black"}, "encoding": {"x": {"datum": -2.6}, "y": {"datum": 1.646}}}
 ]},
 {"width": 285, "height": 249, "layer": [
  {"data": {"name": "cdata"}, "layer": [
   {"mark": {"type": "bar", "stroke": "black", "strokeWidth": 1.2},
    "encoding": {"x": {"field": "cat", "type": "nominal", "scale": {"domain": ["NC", "NE", "gap", "RC", "RE"], "paddingInner": 0.2, "paddingOuter": 0.314, "align": 0.91}, "axis": {"title": null, "domain": false, "ticks": false, "labelExpr": "datum.value == 'NC' ? 'Naive CLR' : (datum.value == 'RC' ? 'CLR-rich' : '')", "labelOffset": 26.25, "labelPadding": 9, "labelFontSize": 17, "labelAngle": 0, "labelOverlap": false}},
     "y": {"field": "v", "type": "quantitative", "scale": {"domain": [0, 1.7026], "nice": false, "zero": false}, "axis": {"values": [0,0.2,0.4,0.6,0.8,1,1.2,1.4,1.6], "tickCount": 30, "format": ".1f", "title": "NPo/NPo before application", "titleFontSize": 17, "labelFontSize": 14, "tickSize": 5, "labelPadding": 3, "titlePadding": 5, "labelOverlap": false, "labelFlush": false}},
     "fill": {"field": "treat", "type": "nominal", "scale": {"domain": ["Control (3-7 min)", "Ethanol (3-7 min)"], "range": ["white", "black"]}, "legend": {"orient": "none", "legendX": 12, "legendY": 10, "title": null, "padding": 0, "symbolType": "M-2.14,-0.93H2.14V0.93H-2.14Z", "symbolSize": 196, "symbolStrokeColor": "black", "symbolStrokeWidth": 1.2, "labelFontSize": 15, "labelOffset": 10, "rowPadding": 2, "labelLimit": 300}}}},
   {"mark": {"type": "rule", "color": "black", "strokeWidth": 1.2}, "encoding": {"x": {"field": "cat", "type": "nominal"}, "y": {"field": "v", "type": "quantitative"}, "y2": {"field": "e"}}},
   {"mark": {"type": "tick", "orient": "horizontal", "color": "black", "size": 8, "thickness": 1.2}, "encoding": {"x": {"field": "cat", "type": "nominal"}, "y": {"field": "e", "type": "quantitative"}}},
   {"data": {"values": [{}]}, "mark": {"type": "rule", "color": "black", "strokeDash": [6, 4], "strokeWidth": 1.2}, "encoding": {"y": {"datum": 1}}},
   {"data": {"name": "brk"}, "transform": [{"filter": "datum.b == 1"}], "mark": {"type": "line", "color": "black", "strokeWidth": 1.2}, "encoding": {"x": {"field": "c", "type": "nominal", "bandPosition": 0.47}, "y": {"field": "y", "type": "quantitative"}, "order": {"field": "o"}}},
   {"data": {"name": "brk"}, "transform": [{"filter": "datum.b == 2"}], "mark": {"type": "line", "color": "black", "strokeWidth": 1.2}, "encoding": {"x": {"field": "c", "type": "nominal", "bandPosition": 0.53}, "y": {"field": "y", "type": "quantitative"}, "order": {"field": "o"}}},
   {"data": {"values": [{"c": "NC"}, {"c": "gap"}]}, "mark": {"type": "text", "text": "*", "align": "center", "baseline": "alphabetic", "fontSize": 32, "fontWeight": "bold", "fill": "white", "stroke": "white", "strokeWidth": 6}, "encoding": {"x": {"field": "c", "type": "nominal", "bandPosition": 1.0}, "y": {"datum": 1.212}}},
   {"data": {"values": [{"c": "NC"}, {"c": "gap"}]}, "mark": {"type": "text", "text": "*", "align": "center", "baseline": "alphabetic", "fontSize": 32, "fontWeight": "bold", "color": "black"}, "encoding": {"x": {"field": "c", "type": "nominal", "bandPosition": 1.0}, "y": {"datum": 1.212}}},
   {"data": {"values": [{"g": "NC"}, {"g": "RC"}]}, "mark": {"type": "tick", "orient": "horizontal", "color": "black", "size": 79, "thickness": 1.2}, "encoding": {"x": {"field": "g", "type": "nominal", "bandPosition": 1.13}, "y": {"datum": -0.039}}}
  ]},
  {"data": {"values": [{}]}, "mark": {"type": "text", "text": "C", "align": "center", "baseline": "middle", "fontSize": 30, "fontWeight": "bold", "color": "black"}, "encoding": {"x": {"datum": -0.189, "type": "quantitative", "scale": {"domain": [0, 1]}, "axis": null}, "y": {"datum": 1.787}}},
  {"data": {"values": [{}]}, "mark": {"type": "text", "text": "30 μM Ca²⁺", "align": "center", "baseline": "middle", "fontSize": 18, "color": "black"}, "encoding": {"x": {"datum": 0.495, "type": "quantitative", "scale": {"domain": [0, 1]}, "axis": null}, "y": {"datum": 1.753}}}
 ], "resolve": {"scale": {"x": "independent"}}}
]}
]
}
